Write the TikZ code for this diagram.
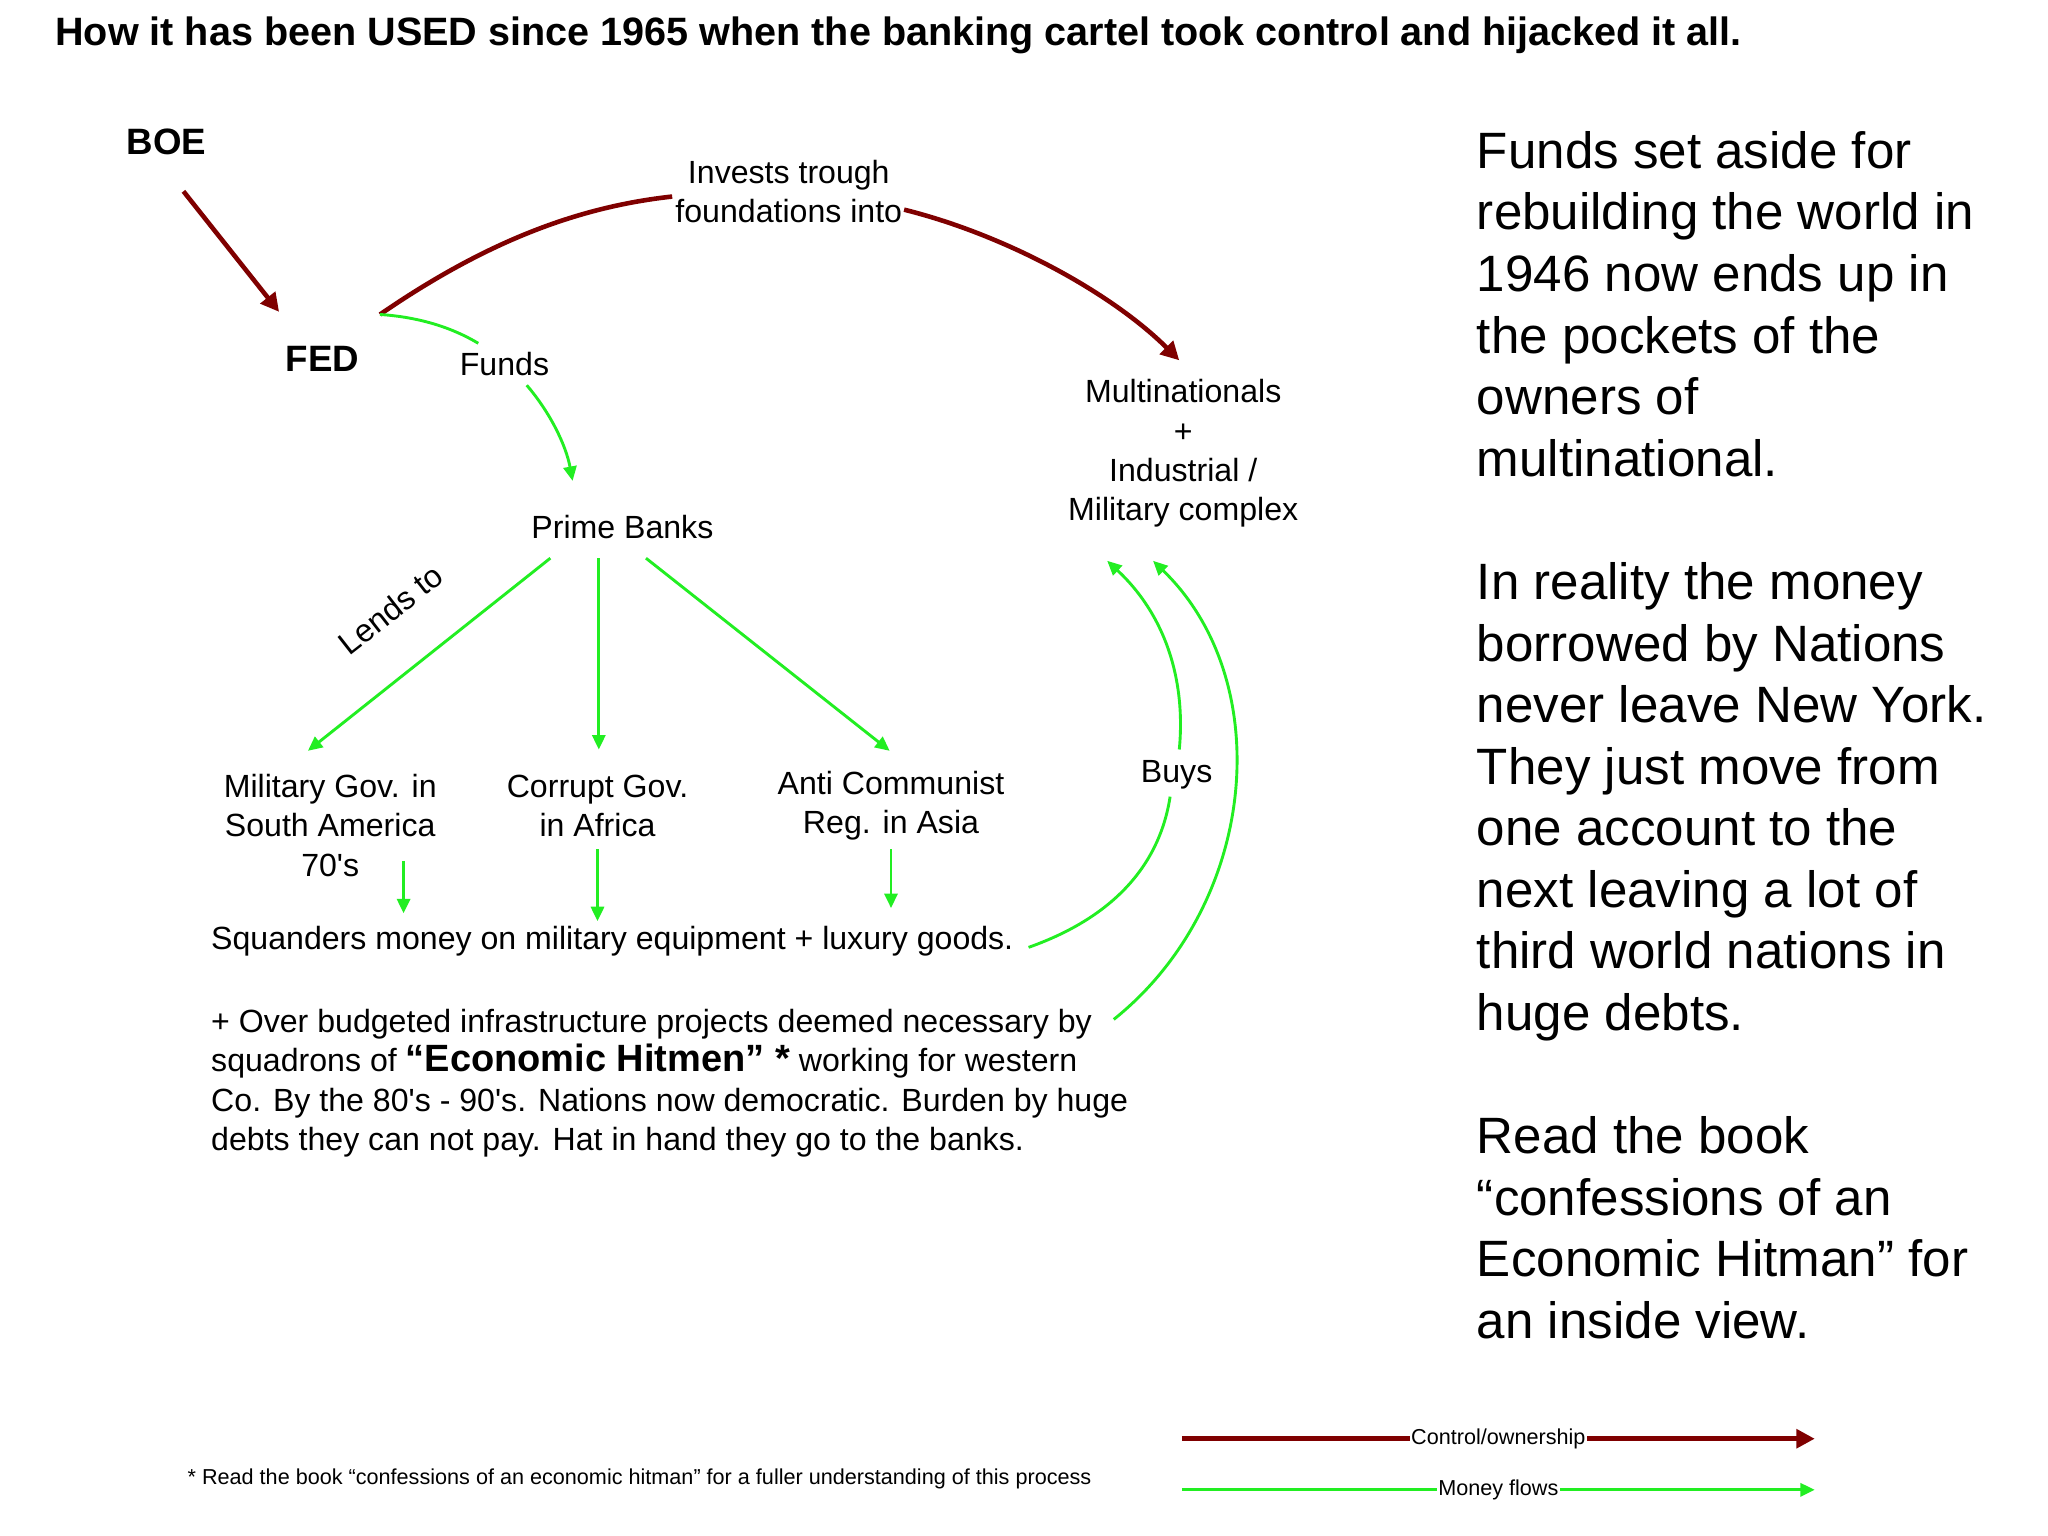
\documentclass[tikz,border=0pt]{standalone}
\usepackage{fontspec}
\setmainfont{Liberation Sans}
\newfontfamily\pf{Liberation Sans}[Ligatures=ResetAll]
\usetikzlibrary{arrows.meta}
\definecolor{ctrl}{HTML}{7F0000}
\definecolor{money}{HTML}{22EE22}
\newcommand{\ap}{{\pf'}}
\begin{document}
\begin{tikzpicture}[x=1pt,y=-1pt,
  ctl/.style={draw=ctrl,line width=3.5pt,-{Triangle[length=14pt,width=14pt]}},
  mon/.style={draw=money,line width=2.2pt,-{Triangle[length=11pt,width=10pt]}},
  txt/.style={font=\fontsize{24.5}{30}\selectfont,align=center,inner sep=1pt},
  big/.style={font=\bfseries\fontsize{28}{32}\selectfont,inner sep=0pt}]
\useasboundingbox[fill=white] (0,0) rectangle (1563,1172);
\node[anchor=west,font=\bfseries\fontsize{30.2}{34}\selectfont,inner sep=0pt] (title) at (42,27) {How it has been USED since 1965 when the banking cartel took control and hijacked it all.};
\node[big] (boe) at (127,108) {BOE};
\node[big] (fed) at (246,274) {FED};
\coordinate (boes) at (140,146);
\coordinate (fede) at (213,238);
\draw[ctl] (boes) -- (fede);
\coordinate (fedr) at (290,240);
\node[txt] (inv) at (602,146) {Invests trough\\foundations into};
\node[txt] (mult) at (903,346) {Multinationals\\+\\Industrial /\\Military complex};
\coordinate (multt) at (900,275);
\draw[draw=ctrl,line width=3.5pt] (fedr) .. controls (370,185) and (440,158) .. (513,150);
\draw[ctl] (690,160) .. controls (770,180) and (850,225) .. (multt);
\node[txt] (funds) at (385,278) {Funds};
\node[txt] (prime) at (475,402) {Prime Banks};
\coordinate (primet) at (437,367);
\draw[draw=money,line width=2.2pt] (fedr) .. controls (320,242) and (345,250) .. (365,262);
\draw[mon] (402,294) .. controls (420,315) and (432,340) .. (primet);
\node[txt,rotate=38] (lends) at (298,465) {Lends to};
\node[txt] (mil) at (252,630) {Military Gov. in\\South America\\70\ap s};
\node[txt] (cor) at (456,615) {Corrupt Gov.\\in Africa};
\node[txt] (anti) at (680,615) {Anti Communist\\Reg. in Asia};
\draw[mon] (420,426) -- (235,573);
\draw[mon] (457,426) -- (457,572);
\draw[mon] (493,426) -- (679,573);
\node[txt,anchor=west,inner sep=0pt] (squ) at (161,718) {Squanders money on military equipment + luxury goods.};
\draw[mon] (308,657) -- (308,697);
\draw[mon] (456,648) -- (456,703);
\draw[mon] (680,648) -- (680,693);
\node[txt,anchor=north west,align=left,inner sep=0pt] (para) at (161,770) {+ Over budgeted infrastructure projects deemed necessary by\\squadrons of {\bfseries\fontsize{29}{30}\selectfont “Economic Hitmen” *} working for western\\Co. By the 80\ap s - 90\ap s. Nations now democratic. Burden by huge\\debts they can not pay. Hat in hand they go to the banks.};
\node[txt] (buys) at (898,591) {Buys};
\coordinate (mul1) at (845,428);
\coordinate (mul2) at (880,428);
\draw[draw=money,line width=2.2pt] (785,723) .. controls (850,700) and (885,660) .. (893,608);
\draw[mon] (900,572) .. controls (905,520) and (890,470) .. (mul1);
\draw[mon] (850,778) .. controls (960,690) and (975,520) .. (mul2);
\node[anchor=north west,align=left,inner sep=0pt,font=\fontsize{39}{47}\selectfont] (right) at (1127,100) {Funds set aside for\\rebuilding the world in\\1946 now ends up in\\the pockets of the\\owners of\\multinational.\\[47pt]In reality the money\\borrowed by Nations\\never leave New York.\\They just move from\\one account to the\\next leaving a lot of\\third world nations in\\huge debts.\\[47pt]Read the book\\“confessions of an\\Economic Hitman” for\\an inside view.};
\node[anchor=west,inner sep=0pt,font=\fontsize{16.5}{18}\selectfont] (foot) at (143,1129) {* Read the book “confessions of an economic hitman” for a fuller understanding of this process};
\coordinate (l1a) at (902,1098); \coordinate (l1b) at (1385,1098);
\coordinate (l2a) at (902,1137); \coordinate (l2b) at (1385,1137);
\draw[ctl] (l1a) -- (l1b) node[pos=0.5,fill=white,inner sep=1pt,font=\fontsize{16.5}{18}\selectfont,text=black] (lc) {Control/ownership};
\draw[mon] (l2a) -- (l2b) node[pos=0.5,fill=white,inner sep=1pt,font=\fontsize{16.5}{18}\selectfont,text=black] (lm) {Money flows};
\end{tikzpicture}
\end{document}
